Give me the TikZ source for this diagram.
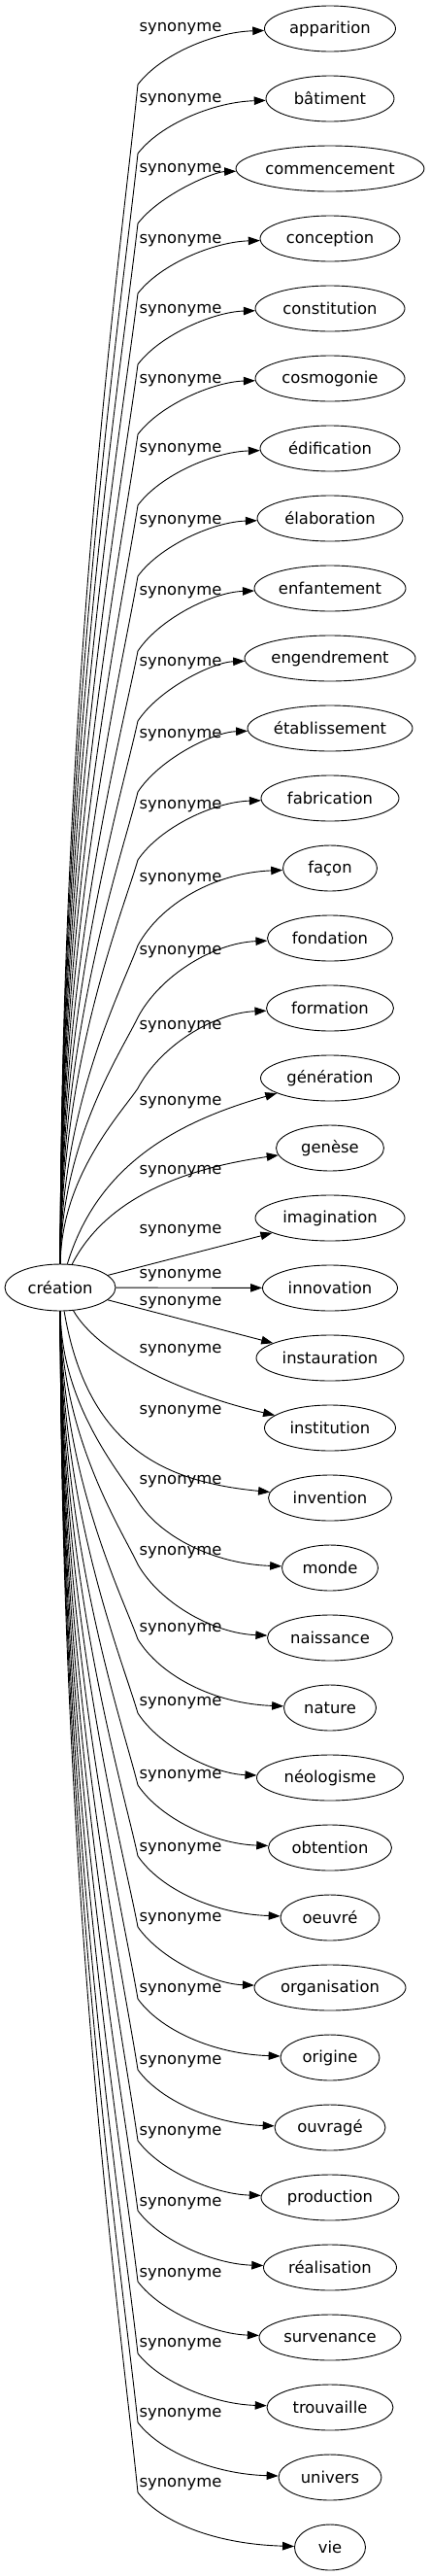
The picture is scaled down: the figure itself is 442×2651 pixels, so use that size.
\documentclass[tikz,border=0pt]{standalone}
\usepackage{fontspec}
\setmainfont{DejaVu Sans}
\usetikzlibrary{shapes.geometric,arrows.meta}
\tikzset{
  tgt/.style={draw, ellipse, inner sep=0pt, minimum height=47pt, line width=0.9pt,
    font=\fontsize{16.4}{19.7}\selectfont},
  lbl/.style={inner sep=0pt, font=\fontsize{16.4}{19.7}\selectfont},
  edge/.style={line width=0.9pt, -{Triangle[length=12pt,width=8.5pt]}}
}
\begin{document}
\begin{tikzpicture}[x=1pt,y=-1pt]
\useasboundingbox (0,0) rectangle (442,2651);
\node[tgt, minimum width=114pt, minimum height=48pt] (c) at (62,1325) {création};
\foreach \i/\word/\ww/\ly in {
 0/apparition/135/30, 1/bâtiment/132/103, 2/commencement/194/175,
 3/conception/144/248, 4/constitution/154/320, 5/cosmogonie/154/392,
 6/édification/144/463, 7/élaboration/150/537, 8/enfantement/156/610,
 9/engendrement/176/683, 10/établissement/170/757, 11/fabrication/142/830,
 12/façon/97/905, 13/fondation/129/980, 14/formation/131/1057,
 15/génération/143/1135, 16/genèse/111/1206, 17/imagination/154/1267,
 18/innovation/139/1313, 19/instauration/152/1341, 20/institution/135/1390,
 21/invention/127/1453, 22/monde/99/1525, 23/naissance/129/1598,
 24/nature/95/1677, 25/néologisme/151/1753, 26/obtention/127/1828,
 27/oeuvré/102/1903, 28/organisation/156/1975, 29/origine/102/2048,
 30/ouvragé/114/2122, 31/production/142/2195, 32/réalisation/137/2268,
 33/survenance/146/2341, 34/trouvaille/130/2413, 35/univers/106/2485,
 36/vie/73/2557}{
  \pgfmathsetmacro\yt{29.5+72*\i}
  \node[tgt, minimum width=\ww pt] (t\i) at (340,\yt) {\word};
  \node[lbl] (l\i) at (186,\ly) {synonyme};
}
% upper edges
\foreach \i/\v in {0/87, 1/158, 2/230, 3/302, 4/375, 5/447, 6/520, 7/593,
  8/670, 9/742, 10/815, 11/885, 12/973, 13/1047, 14/1120}{
  \pgfmathsetmacro\yt{29.5+72*\i}
  \pgfmathsetmacro\dd{1301-\v}
  \pgfmathsetmacro\ea{1301-0.5*\dd}
  \pgfmathsetmacro\eb{\v+0.14*\dd}
  \pgfmathsetmacro\ec{\v-0.53*(\v-\yt)}
  \pgfmathsetmacro\ed{\yt+0.06*(\v-\yt)}
  \coordinate (v\i) at (142,\v);
  \draw[edge] (c) .. controls (63,\ea) and (125,\eb) .. (v\i)
     .. controls (165,\ec) and (220,\ed) .. (t\i);
}
% smooth middle edges
\draw[edge] (c) .. controls (100,1200) and (180,1155) .. (t15);
\draw[edge] (c) .. controls (108,1235) and (185,1203) .. (t16);
\draw[edge] (c) .. controls (102,1395) and (190,1435) .. (t20);
\draw[edge] (c) .. controls (90,1490) and (170,1525) .. (t21);
% straight edges
\foreach \i in {17,18,19}{
  \draw[edge] (c) -- (t\i);
}
% lower edges
\foreach \i/\v in {22/1545, 23/1610, 24/1687, 25/1763,
  26/1837, 27/1910, 28/1983, 29/2057, 30/2130, 31/2203, 32/2275, 33/2348,
  34/2422, 35/2493, 36/2565}{
  \pgfmathsetmacro\yt{29.5+72*\i}
  \pgfmathsetmacro\dd{\v-1349}
  \pgfmathsetmacro\ea{1349+0.5*\dd}
  \pgfmathsetmacro\eb{\v-0.14*\dd}
  \pgfmathsetmacro\ec{\v+0.53*(\yt-\v)}
  \pgfmathsetmacro\ed{\yt-0.06*(\yt-\v)}
  \coordinate (v\i) at (142,\v);
  \draw[edge] (c) .. controls (63,\ea) and (125,\eb) .. (v\i)
     .. controls (165,\ec) and (220,\ed) .. (t\i);
}
\end{tikzpicture}
\end{document}
